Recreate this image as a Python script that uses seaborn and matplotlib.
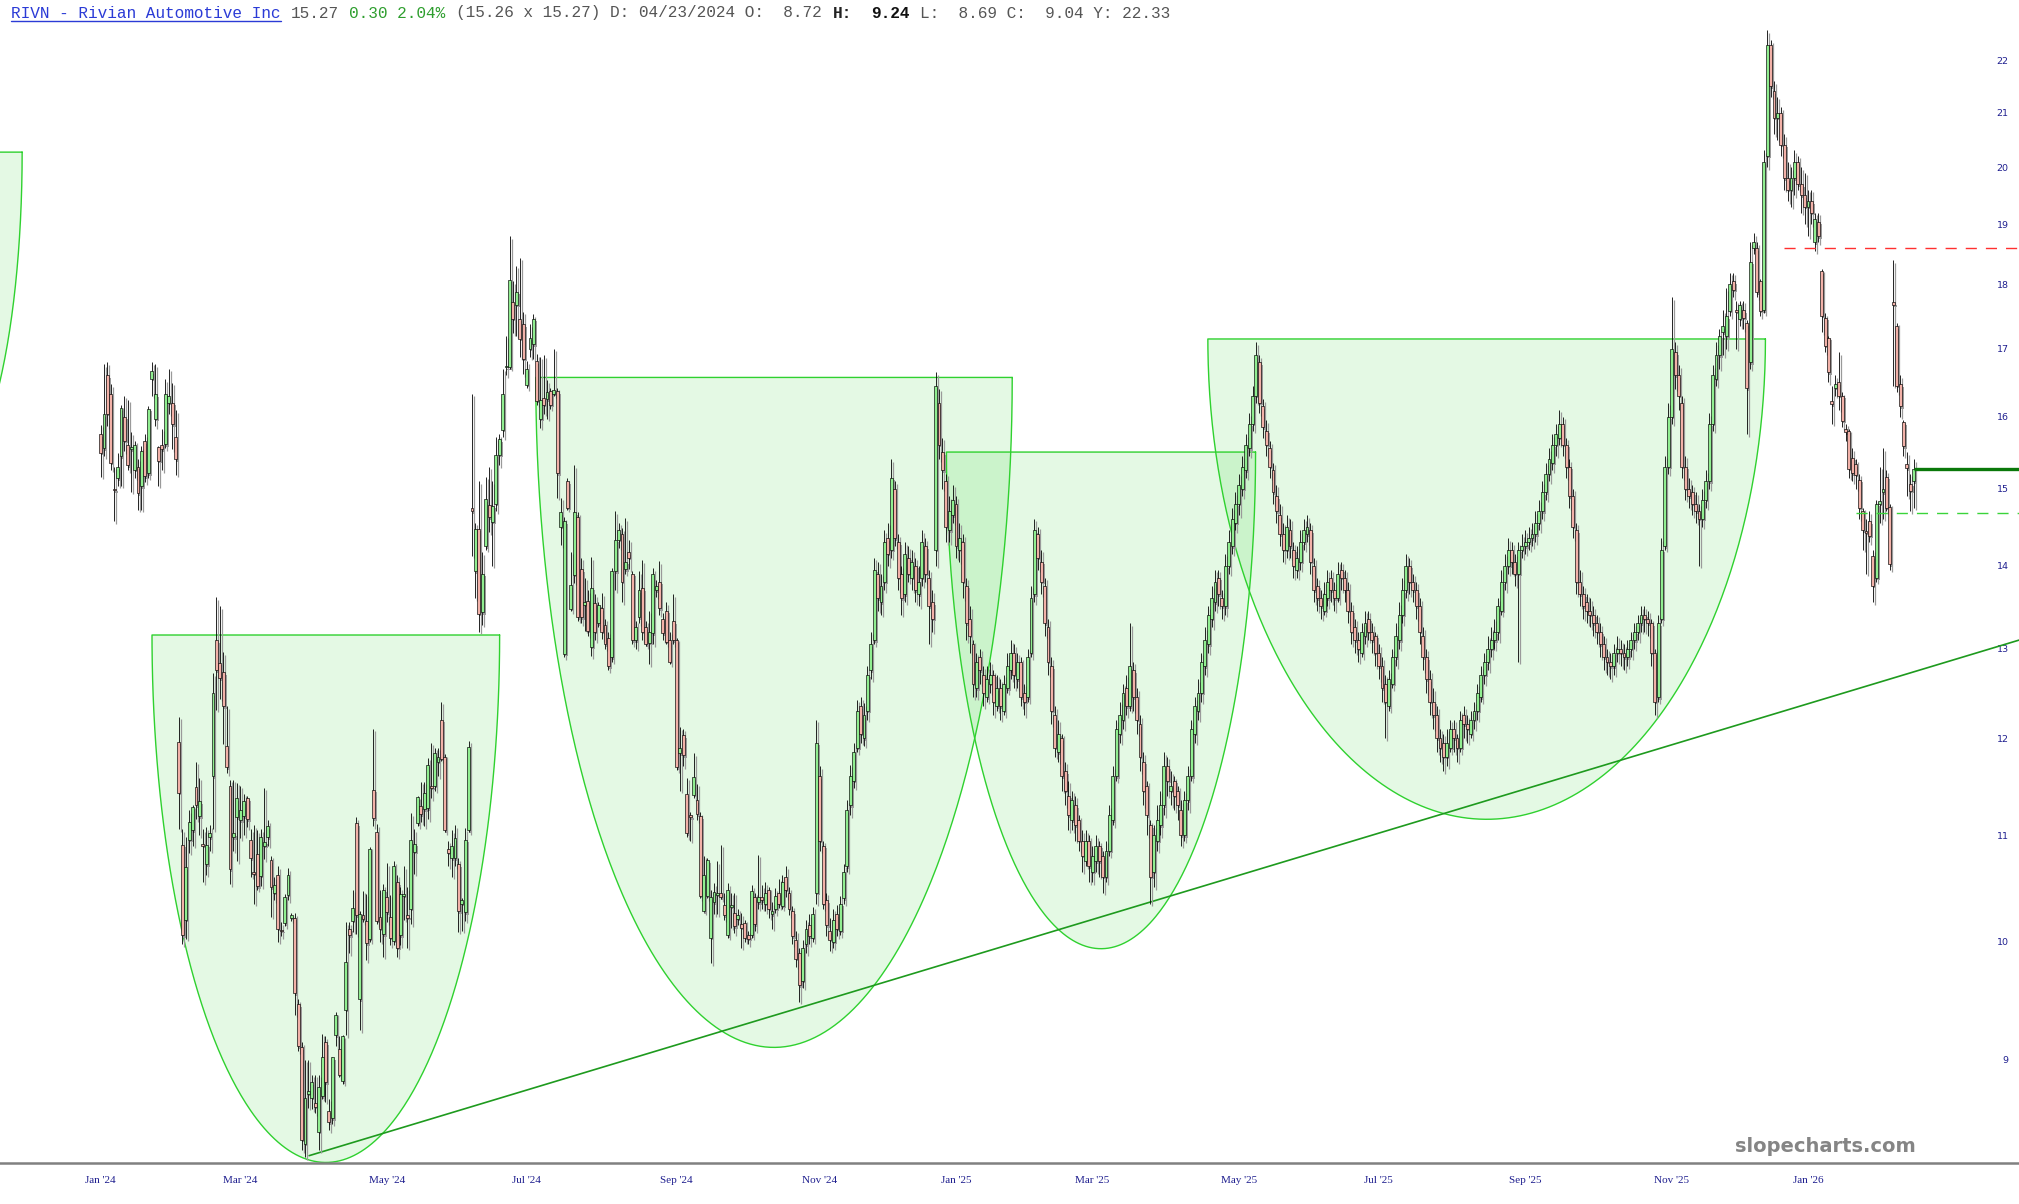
import numpy as np
import pandas as pd
import matplotlib
matplotlib.use("Agg")
import matplotlib.pyplot as plt
import matplotlib.transforms as mtransforms
from matplotlib.lines import Line2D
from matplotlib.ticker import NullLocator
import seaborn as sns
from pandas.tseries.holiday import USFederalHolidayCalendar
from pandas.tseries.offsets import CustomBusinessDay

# daily candles (open, high, low, close)
jan_24 = [
    (15.75, 15.88, 15.16, 15.49), (15.55, 16.77, 15.44, 16.03), (16.60, 16.80, 15.86, 16.04),
    (16.33, 16.47, 15.26, 15.35), (15.00, 15.30, 14.57, 14.98), (15.14, 15.49, 15.04, 15.30),
    (15.44, 16.16, 15.04, 16.12), (16.00, 16.30, 15.51, 15.66), (15.60, 16.24, 15.25, 15.32),
    (15.54, 15.78, 14.96, 15.57), (15.26, 15.66, 15.15, 15.60), (15.30, 15.41, 14.72, 14.94),
    (15.03, 15.58, 14.72, 15.52), (15.65, 15.75, 15.09, 15.17), (15.21, 16.15, 15.15, 16.11),
    (16.55, 16.80, 16.30, 16.66), (15.97, 16.77, 15.86, 16.32), (15.57, 15.58, 15.04, 15.38),
    (15.60, 15.83, 15.25, 15.54), (15.61, 16.54, 15.55, 16.33), (16.20, 16.70, 16.04, 16.30),
    (16.20, 16.49, 15.54, 15.89), (15.71, 16.09, 15.19, 15.40),
]
feb_mar_24 = [
    (11.96, 12.23, 11.06, 11.43), (10.91, 11.06, 9.98, 10.06), (10.20, 10.98, 10.03, 10.69),
    (10.96, 11.25, 10.83, 11.13), (11.05, 11.30, 10.90, 11.28), (11.49, 11.75, 11.16, 11.30),
    (11.19, 11.58, 11.00, 11.34), (10.92, 11.06, 10.55, 10.90), (10.72, 11.08, 10.62, 10.91),
    (10.98, 11.10, 10.85, 11.02), (11.60, 12.72, 11.06, 12.49), (13.10, 13.61, 12.31, 12.75),
    (12.84, 13.50, 12.43, 12.66), (12.73, 12.96, 11.94, 12.35), (11.92, 12.35, 11.63, 11.69),
    (11.50, 11.56, 10.53, 10.67), (10.98, 11.56, 10.85, 11.02), (11.18, 11.53, 10.75, 11.37),
    (11.15, 11.50, 10.97, 11.25), (11.19, 11.42, 11.00, 11.34), (11.37, 11.39, 11.08, 11.16),
    (10.96, 11.06, 10.60, 10.78), (10.65, 11.10, 10.35, 10.63), (10.82, 11.05, 10.48, 10.51),
]
apr_may_24 = [
    (10.61, 11.06, 10.51, 10.98), (10.90, 11.48, 10.77, 10.94), (10.98, 11.15, 10.90, 11.09),
    (10.76, 10.80, 10.23, 10.50), (10.45, 10.60, 10.38, 10.52), (10.62, 10.70, 10.00, 10.12),
    (10.11, 10.18, 10.05, 10.10), (10.17, 10.44, 10.14, 10.41), (10.43, 10.68, 10.38, 10.62),
    (10.22, 10.26, 10.19, 10.24), (10.22, 10.26, 9.37, 9.55), (9.46, 9.50, 9.07, 9.11),
    (9.10, 9.14, 8.30, 8.38), (8.35, 9.00, 8.25, 8.70), (8.73, 9.00, 8.62, 8.75),
    (8.70, 8.88, 8.61, 8.82), (8.66, 8.88, 8.58, 8.63), (8.44, 8.88, 8.30, 8.78),
    (8.71, 9.21, 8.69, 9.02), (9.14, 9.19, 8.67, 8.82), (8.60, 8.69, 8.45, 8.51),
    (8.54, 9.02, 8.50, 9.02), (9.20, 9.39, 9.11, 9.37), (9.09, 9.19, 8.86, 8.88),
    (8.83, 9.20, 8.81, 9.19), (9.41, 10.18, 9.20, 9.82), (10.12, 10.18, 9.90, 10.06),
    (10.19, 10.48, 10.09, 10.31), (11.12, 11.18, 10.07, 10.24), (9.50, 10.28, 9.24, 10.25),
    (10.24, 10.47, 10.18, 10.21), (10.19, 10.44, 9.84, 9.99), (10.03, 10.89, 10.00, 10.87),
    (11.46, 12.10, 11.09, 11.17), (11.03, 11.11, 10.16, 10.19), (10.23, 10.48, 10.00, 10.12),
    (10.07, 10.53, 9.87, 10.48), (10.41, 10.73, 10.18, 10.27), (10.23, 10.43, 9.97, 10.04),
    (10.01, 10.75, 9.97, 10.70), (10.55, 10.62, 9.87, 9.95), (10.06, 10.50, 9.97, 10.44),
    (10.42, 10.70, 10.20, 10.44), (10.24, 10.50, 9.95, 10.22), (10.30, 11.22, 10.16, 10.96),
    (10.84, 11.06, 10.63, 10.92), (11.12, 11.39, 11.09, 11.38), (11.29, 11.54, 11.13, 11.21),
    (11.26, 11.54, 11.09, 11.43), (11.27, 11.79, 11.16, 11.72), (11.50, 11.95, 11.37, 11.48),
    (11.50, 11.90, 11.45, 11.84),
]
jun_24 = [
    (11.75, 11.90, 11.60, 11.80), (12.20, 12.40, 11.76, 11.78), (11.80, 11.83, 11.03, 11.05),
    (10.87, 10.95, 10.70, 10.83), (10.78, 11.05, 10.60, 10.90), (10.78, 11.10, 10.70, 10.97),
    (10.72, 10.78, 10.09, 10.28), (10.35, 10.40, 10.10, 10.38), (10.27, 11.07, 10.19, 10.96),
    (11.05, 11.97, 11.03, 11.91),
]
jul_aug_24 = [
    (14.75, 16.33, 14.13, 14.70), (13.93, 14.55, 13.60, 14.47), (14.47, 15.10, 13.20, 13.41),
    (13.43, 14.17, 13.28, 13.90), (14.25, 15.16, 14.20, 14.86), (14.78, 15.30, 14.43, 14.62),
    (14.56, 15.10, 14.00, 14.77), (14.80, 15.71, 14.70, 15.46), (15.46, 15.75, 15.32, 15.68),
    (15.81, 16.70, 15.71, 16.33), (16.72, 17.20, 16.60, 16.74), (16.72, 18.80, 16.70, 18.08),
    (17.72, 18.06, 17.24, 17.46), (17.68, 18.31, 17.20, 17.89), (17.46, 18.44, 16.87, 17.15),
    (17.38, 17.57, 16.62, 16.85), (16.46, 16.81, 16.41, 16.70), (17.00, 17.38, 16.87, 17.17),
    (17.07, 17.53, 16.85, 17.46), (16.81, 16.92, 16.17, 16.23), (15.97, 16.88, 15.84, 16.24),
    (16.27, 16.90, 16.04, 16.17), (16.25, 16.53, 15.97, 16.35), (16.37, 16.42, 16.11, 16.17),
    (16.33, 17.00, 16.30, 16.39), (16.37, 16.42, 14.88, 15.21), (14.50, 14.88, 14.26, 14.69),
    (12.94, 14.62, 12.90, 14.57), (15.10, 15.14, 14.72, 14.75), (13.47, 14.18, 13.44, 13.76),
    (13.89, 15.32, 13.79, 14.69), (14.62, 14.69, 13.33, 13.37), (13.96, 14.10, 13.30, 13.37),
    (13.52, 13.85, 13.21, 13.55), (13.57, 13.70, 13.15, 13.21), (13.02, 14.11, 12.91, 13.73),
]
sep_oct_24 = [
    (13.54, 13.65, 13.10, 13.20), (13.30, 13.55, 13.25, 13.52), (13.48, 13.66, 13.11, 13.20),
    (13.28, 13.35, 13.00, 13.05), (13.13, 13.20, 12.75, 12.80), (12.90, 13.97, 12.85, 13.93),
    (13.93, 14.70, 13.70, 14.33), (14.33, 14.55, 14.23, 14.45), (14.40, 14.48, 13.55, 13.80),
    (13.96, 14.61, 13.90, 14.05), (14.17, 14.33, 13.96, 14.10), (13.90, 13.93, 13.05, 13.10),
    (13.10, 13.33, 13.00, 13.25), (13.37, 13.93, 13.30, 13.70), (13.72, 14.07, 13.10, 13.20),
    (13.25, 13.33, 13.03, 13.05), (13.07, 13.45, 12.82, 13.20), (13.18, 13.97, 13.05, 13.90),
    (13.70, 13.82, 13.62, 13.75), (13.80, 14.06, 13.40, 13.48), (13.35, 13.42, 13.10, 13.18),
    (13.45, 13.55, 13.05, 13.08), (13.10, 13.20, 12.82, 12.85), (13.32, 13.65, 13.05, 13.10),
    (13.10, 13.12, 11.66, 11.69), (11.84, 12.12, 11.45, 11.90), (12.03, 12.10, 11.70, 11.82),
    (11.42, 11.58, 10.98, 11.02), (11.20, 11.23, 10.95, 11.18), (11.41, 11.84, 11.37, 11.59),
    (11.35, 11.52, 11.15, 11.21), (11.19, 11.23, 10.40, 10.42), (10.28, 10.80, 10.27, 10.62),
    (10.42, 10.78, 10.40, 10.76), (10.04, 10.48, 9.81, 10.41), (10.36, 10.54, 10.25, 10.46),
    (10.43, 10.75, 10.25, 10.45), (10.45, 10.91, 10.39, 10.41), (10.34, 10.45, 10.20, 10.24),
    (10.06, 10.54, 10.04, 10.48), (10.32, 10.45, 10.13, 10.33), (10.26, 10.45, 10.08, 10.14),
    (10.21, 10.30, 10.15, 10.24), (10.16, 10.26, 9.95, 10.13), (10.17, 10.20, 10.00, 10.04),
    (10.06, 10.10, 9.98, 10.03), (10.06, 10.52, 10.04, 10.47), (10.41, 10.45, 10.10, 10.16),
    (10.36, 10.81, 10.30, 10.41),
]
nov_24_jan_25 = [
    (10.41, 10.52, 10.30, 10.38), (10.35, 10.55, 10.28, 10.45), (10.48, 10.50, 10.22, 10.30),
    (10.25, 10.36, 10.12, 10.28), (10.30, 10.49, 10.26, 10.42), (10.45, 10.58, 10.31, 10.35),
    (10.33, 10.62, 10.30, 10.55), (10.60, 10.70, 10.41, 10.48), (10.45, 10.50, 10.24, 10.30),
    (10.28, 10.33, 9.98, 10.05), (10.02, 10.10, 9.78, 9.85), (9.90, 9.95, 9.48, 9.62),
    (9.66, 10.02, 9.60, 9.95), (9.98, 10.20, 9.90, 10.12), (10.15, 10.25, 9.98, 10.05),
    (10.04, 10.32, 10.00, 10.25), (10.45, 12.20, 10.35, 11.95), (11.60, 11.70, 10.85, 10.95),
    (10.90, 10.95, 10.30, 10.35), (10.38, 10.45, 10.05, 10.15), (10.10, 10.22, 9.92, 10.02),
    (10.00, 10.30, 9.95, 10.20), (10.25, 10.34, 10.05, 10.12), (10.10, 10.42, 10.06, 10.35),
    (10.40, 10.72, 10.35, 10.65), (10.70, 11.35, 10.65, 11.25), (11.30, 11.72, 11.20, 11.60),
    (11.55, 11.95, 11.48, 11.85), (11.90, 12.42, 11.85, 12.30), (12.35, 12.45, 11.95, 12.05),
    (12.00, 12.38, 11.92, 12.25), (12.30, 12.80, 12.20, 12.70), (12.75, 13.20, 12.65, 13.05),
    (13.10, 14.10, 13.05, 13.95), (13.90, 14.05, 13.45, 13.60), (13.55, 13.90, 13.40, 13.75),
    (13.80, 14.45, 13.70, 14.30), (14.35, 14.55, 14.00, 14.15), (14.20, 15.40, 14.10, 15.15),
    (15.00, 15.10, 14.25, 14.35), (14.30, 14.40, 13.70, 13.85), (13.90, 14.00, 13.40, 13.60),
    (13.65, 14.30, 13.55, 14.15), (14.10, 14.25, 13.80, 13.90), (13.85, 14.20, 13.70, 14.05),
    (14.00, 14.10, 13.55, 13.70), (13.65, 14.00, 13.50, 13.80), (13.85, 14.45, 13.75, 14.30),
    (14.25, 14.35, 13.80, 13.90), (13.85, 13.95, 13.05, 13.50), (13.55, 13.70, 13.20, 13.35),
    (14.20, 16.65, 14.00, 16.45), (16.20, 16.40, 15.40, 15.60), (15.50, 15.70, 15.00, 15.25),
    (15.10, 15.20, 14.30, 14.50), (14.45, 14.90, 14.30, 14.70), (14.65, 15.05, 14.55, 14.85),
    (14.80, 14.90, 14.10, 14.25), (14.20, 14.55, 14.05, 14.35), (14.30, 14.40, 13.60, 13.80),
    (13.75, 13.85, 13.10, 13.30), (13.35, 13.50, 12.95, 13.15), (13.05, 13.10, 12.45, 12.60),
    (12.55, 12.95, 12.45, 12.85), (12.90, 13.00, 12.60, 12.75), (12.70, 12.80, 12.35, 12.50),
    (12.45, 12.80, 12.40, 12.65), (12.60, 12.85, 12.50, 12.70), (12.70, 12.75, 12.25, 12.40),
    (12.35, 12.70, 12.30, 12.55), (12.55, 12.65, 12.20, 12.35), (12.30, 12.70, 12.25, 12.60),
    (12.55, 12.95, 12.50, 12.80), (12.75, 13.10, 12.65, 12.95), (12.95, 13.05, 12.55, 12.70),
    (12.65, 12.95, 12.55, 12.85), (12.85, 12.90, 12.35, 12.45), (12.50, 12.60, 12.25, 12.40),
]
feb_may_25 = [
    (12.45, 13.00, 12.40, 12.90), (12.95, 13.75, 12.90, 13.60), (13.65, 14.60, 13.55, 14.45),
    (14.40, 14.50, 13.95, 14.10), (14.05, 14.20, 13.65, 13.80), (13.75, 13.85, 13.15, 13.30),
    (13.25, 13.35, 12.70, 12.85), (12.80, 12.90, 12.15, 12.30), (12.25, 12.35, 11.80, 11.90),
    (11.85, 12.20, 11.75, 12.05), (12.00, 12.05, 11.45, 11.60), (11.65, 11.75, 11.30, 11.45),
    (11.40, 11.55, 11.05, 11.20), (11.15, 11.45, 11.05, 11.35), (11.30, 11.40, 10.95, 11.10),
    (11.15, 11.20, 10.85, 10.95), (10.95, 11.05, 10.65, 10.80), (10.75, 11.05, 10.70, 10.95),
    (10.95, 11.00, 10.55, 10.70), (10.65, 10.90, 10.55, 10.80), (10.75, 11.00, 10.65, 10.90),
    (10.90, 10.95, 10.60, 10.75), (10.80, 10.85, 10.45, 10.60), (10.60, 10.95, 10.55, 10.85),
    (10.85, 11.30, 10.80, 11.20), (11.15, 11.70, 11.10, 11.60), (11.60, 12.20, 11.55, 12.10),
    (12.05, 12.40, 11.95, 12.25), (12.20, 12.60, 12.10, 12.50), (12.55, 12.70, 12.25, 12.35),
    (12.35, 13.30, 12.30, 12.80), (12.75, 12.85, 12.30, 12.45), (12.45, 12.55, 12.05, 12.20),
    (12.15, 12.25, 11.65, 11.80), (11.75, 11.85, 11.30, 11.45), (11.50, 11.55, 11.00, 11.20),
    (11.10, 11.15, 10.35, 10.60), (10.65, 11.10, 10.50, 11.00), (10.95, 11.30, 10.85, 11.15),
    (11.10, 11.45, 11.00, 11.30), (11.30, 11.85, 11.20, 11.70), (11.70, 11.80, 11.40, 11.55),
    (11.45, 11.65, 11.30, 11.50), (11.55, 11.60, 11.25, 11.40), (11.45, 11.50, 11.15, 11.30),
    (11.25, 11.35, 10.90, 11.00), (11.00, 11.45, 10.95, 11.35), (11.35, 11.70, 11.25, 11.60),
    (11.60, 12.20, 11.55, 12.10), (12.05, 12.45, 11.95, 12.35), (12.30, 12.65, 12.20, 12.50),
    (12.50, 12.95, 12.40, 12.85), (12.80, 13.25, 12.70, 13.10), (13.05, 13.50, 12.95, 13.40),
    (13.35, 13.75, 13.25, 13.60), (13.55, 13.95, 13.45, 13.80), (13.85, 13.95, 13.50, 13.65),
    (13.60, 13.70, 13.35, 13.50), (13.50, 14.15, 13.40, 14.00), (14.00, 14.45, 13.90, 14.30),
    (14.25, 14.75, 14.15, 14.60), (14.55, 14.95, 14.45, 14.80), (14.80, 15.20, 14.65, 15.05),
    (15.00, 15.45, 14.90, 15.30), (15.25, 15.75, 15.15, 15.60), (15.55, 16.05, 15.45, 15.90),
    (15.90, 16.45, 15.80, 16.30), (16.30, 17.10, 16.20, 16.90),
]
jun_sep_25 = [
    (16.80, 16.90, 16.05, 16.20), (16.15, 16.25, 15.70, 15.85), (15.80, 15.95, 15.45, 15.60),
    (15.55, 15.65, 15.15, 15.30), (15.25, 15.35, 14.80, 14.95), (14.90, 15.05, 14.55, 14.70),
    (14.65, 14.80, 14.25, 14.40), (14.40, 14.55, 14.05, 14.20), (14.20, 14.65, 14.10, 14.50),
    (14.45, 14.60, 14.10, 14.25), (14.20, 14.30, 13.85, 14.00), (13.95, 14.25, 13.85, 14.10),
    (14.05, 14.45, 13.95, 14.30), (14.30, 14.60, 14.20, 14.45), (14.40, 14.65, 14.30, 14.50),
    (14.45, 14.55, 13.90, 14.05), (14.00, 14.10, 13.55, 13.70), (13.75, 13.85, 13.45, 13.60),
    (13.60, 13.70, 13.35, 13.50), (13.45, 13.80, 13.40, 13.65), (13.60, 13.95, 13.50, 13.80),
    (13.85, 13.95, 13.55, 13.70), (13.70, 13.80, 13.45, 13.60), (13.60, 14.05, 13.55, 13.90),
    (13.95, 14.05, 13.70, 13.85), (13.85, 13.95, 13.55, 13.70), (13.70, 13.80, 13.30, 13.45),
    (13.45, 13.55, 13.05, 13.20), (13.25, 13.35, 12.95, 13.10), (13.10, 13.20, 12.85, 13.00),
    (12.95, 13.30, 12.90, 13.20), (13.15, 13.45, 13.05, 13.30), (13.35, 13.45, 13.10, 13.20),
    (13.20, 13.30, 12.95, 13.10), (13.15, 13.20, 12.80, 12.95), (12.95, 13.05, 12.65, 12.80),
    (12.80, 12.90, 12.40, 12.55), (12.60, 12.70, 12.00, 12.40), (12.35, 12.75, 12.30, 12.65),
    (12.60, 13.00, 12.55, 12.90), (12.90, 13.30, 12.80, 13.15), (13.10, 13.55, 13.00, 13.40),
    (13.40, 13.85, 13.30, 13.70), (13.70, 14.15, 13.60, 14.00), (14.00, 14.10, 13.65, 13.80),
    (13.80, 13.90, 13.55, 13.70), (13.70, 13.80, 13.35, 13.50), (13.50, 13.60, 13.05, 13.20),
    (13.15, 13.25, 12.75, 12.90), (12.90, 13.00, 12.50, 12.65), (12.65, 12.75, 12.25, 12.40),
    (12.40, 12.55, 12.10, 12.25), (12.25, 12.35, 11.85, 12.00), (12.00, 12.10, 11.75, 11.90),
    (11.95, 12.05, 11.65, 11.80), (11.80, 12.10, 11.70, 11.95), (11.90, 12.20, 11.85, 12.10),
    (12.10, 12.20, 11.85, 12.00), (12.00, 12.05, 11.75, 11.90), (11.90, 12.30, 11.85, 12.20),
    (12.25, 12.35, 12.00, 12.15), (12.15, 12.25, 11.95, 12.10), (12.05, 12.30, 12.00, 12.20),
    (12.20, 12.40, 12.10, 12.30), (12.30, 12.60, 12.20, 12.50), (12.45, 12.80, 12.40, 12.70),
    (12.70, 12.95, 12.60, 12.85), (12.85, 13.15, 12.75, 13.00), (13.00, 13.25, 12.90, 13.10),
    (13.10, 13.35, 13.00, 13.20), (13.20, 13.60, 13.10, 13.50), (13.45, 13.95, 13.40, 13.80),
    (13.80, 14.15, 13.70, 14.00), (14.00, 14.35, 13.90, 14.20), (14.20, 14.30, 13.90, 14.05),
    (14.05, 14.15, 13.75, 13.90), (13.90, 14.30, 12.85, 14.20), (14.20, 14.40, 14.10, 14.25),
    (14.25, 14.45, 14.15, 14.30), (14.30, 14.50, 14.20, 14.35), (14.35, 14.55, 14.25, 14.40),
]
sep_nov_25 = [
    (14.40, 14.70, 14.30, 14.55), (14.55, 14.85, 14.45, 14.70), (14.70, 15.10, 14.60, 14.95),
    (14.95, 15.35, 14.85, 15.20), (15.20, 15.55, 15.10, 15.40), (15.35, 15.75, 15.25, 15.60),
    (15.60, 15.90, 15.45, 15.75), (15.70, 16.10, 15.60, 15.90), (15.90, 16.00, 15.45, 15.60),
    (15.60, 15.70, 15.15, 15.30), (15.30, 15.40, 14.75, 14.90), (14.90, 15.00, 14.35, 14.50),
    (14.45, 14.55, 13.65, 13.80), (13.80, 13.95, 13.50, 13.65), (13.65, 13.75, 13.35, 13.50),
    (13.55, 13.65, 13.30, 13.45), (13.45, 13.60, 13.25, 13.40), (13.40, 13.50, 13.15, 13.30),
    (13.30, 13.40, 13.05, 13.20), (13.20, 13.30, 12.90, 13.05), (13.05, 13.15, 12.75, 12.90),
    (12.90, 13.00, 12.70, 12.85), (12.85, 12.95, 12.65, 12.80), (12.80, 13.05, 12.70, 12.95),
    (12.95, 13.15, 12.85, 13.00), (13.00, 13.10, 12.80, 12.95), (12.95, 13.05, 12.75, 12.90),
    (12.90, 13.10, 12.80, 13.00), (13.00, 13.20, 12.90, 13.10), (13.10, 13.30, 13.00, 13.20),
    (13.20, 13.40, 13.10, 13.30), (13.30, 13.50, 13.20, 13.40), (13.40, 13.50, 13.20, 13.35),
    (13.35, 13.45, 13.15, 13.30), (13.30, 13.35, 12.80, 12.95), (12.95, 13.00, 12.25, 12.40),
    (12.45, 13.40, 12.40, 13.30), (13.35, 14.35, 13.30, 14.20), (14.25, 15.45, 14.20, 15.30),
    (15.30, 16.20, 15.20, 16.00), (16.00, 17.80, 15.90, 17.00), (16.95, 17.10, 16.40, 16.60),
    (16.60, 16.75, 16.10, 16.30), (16.20, 16.30, 15.15, 15.30), (15.30, 15.45, 14.85, 15.00),
    (15.00, 15.15, 14.75, 14.90), (14.95, 15.05, 14.65, 14.80), (14.80, 14.95, 14.55, 14.70),
    (14.70, 14.80, 14.00, 14.60), (14.60, 15.00, 14.50, 14.85), (14.85, 15.25, 14.75, 15.10),
    (15.10, 16.05, 15.00, 15.90), (15.90, 16.75, 15.80, 16.60), (16.55, 17.10, 16.45, 16.90),
]
dec_25_feb_26 = [
    (16.90, 17.30, 16.70, 17.20), (17.25, 17.60, 16.90, 17.35), (17.20, 17.95, 17.00, 17.50),
    (17.59, 18.20, 17.50, 18.02), (18.06, 18.20, 17.80, 17.92), (17.60, 17.75, 17.00, 17.57),
    (17.46, 17.75, 17.35, 17.68), (17.60, 17.75, 17.30, 17.48), (17.39, 17.45, 15.75, 16.41),
    (16.80, 18.70, 16.70, 18.38), (18.60, 18.85, 18.50, 18.70), (18.60, 18.70, 17.80, 17.88),
    (18.06, 18.10, 17.50, 17.59), (17.60, 20.30, 17.55, 20.10), (20.20, 22.60, 20.00, 22.30),
    (22.30, 22.40, 21.30, 21.50), (21.40, 21.60, 20.60, 20.90), (20.90, 21.30, 20.50, 21.00),
    (21.00, 21.10, 20.20, 20.40), (20.40, 20.60, 19.60, 19.80), (19.80, 20.10, 19.40, 19.60),
    (19.60, 20.00, 19.30, 19.80), (19.80, 20.30, 19.50, 20.10), (20.10, 20.20, 19.60, 19.70),
    (19.70, 20.00, 19.20, 19.50), (19.50, 19.90, 19.00, 19.30), (19.30, 19.60, 18.80, 19.40),
    (19.40, 19.60, 19.00, 19.20), (18.70, 19.20, 18.55, 19.10), (19.05, 19.20, 18.70, 18.80),
    (18.22, 18.25, 17.25, 17.51), (17.48, 17.55, 16.95, 17.05), (17.17, 17.20, 16.50, 16.65),
    (16.22, 16.45, 15.90, 16.18), (16.42, 16.60, 16.30, 16.48), (16.50, 16.95, 16.10, 16.30),
    (16.30, 16.35, 15.85, 15.94), (15.82, 15.90, 15.65, 15.78), (15.80, 15.82, 15.15, 15.27),
    (15.42, 15.55, 15.10, 15.21), (15.33, 15.40, 15.00, 15.19), (15.12, 15.20, 14.60, 14.75),
    (14.70, 14.75, 14.20, 14.45), (14.44, 14.60, 13.90, 14.42), (14.57, 14.70, 14.30, 14.38),
    (14.12, 14.20, 13.55, 13.75), (13.85, 14.85, 13.80, 14.80), (14.80, 15.30, 14.55, 14.83),
    (14.95, 15.55, 14.60, 14.99), (15.16, 15.25, 14.70, 14.75), (14.76, 14.80, 13.95, 14.02),
    (17.72, 18.40, 16.45, 17.68), (17.35, 17.40, 16.35, 16.45), (16.47, 16.60, 16.00, 16.15),
    (15.92, 15.95, 15.45, 15.58), (15.33, 15.50, 14.90, 15.28), (15.07, 15.20, 14.70, 14.97),
    (15.10, 15.40, 14.75, 15.27),
]

# cup drawings: start / end bar, rim price, bottom price
cup_start = [-68.4, 15.1, 127.7, 248.2, 324.9]
cup_end = [-23.0, 117.1, 267.5, 338.9, 488.5]
cup_rim = [20.27, 13.16, 16.57, 15.50, 17.15]
cup_bottom = [15.13, 8.21, 9.10, 9.94, 11.16]

# rising trendline (bar, price)
trend_x = [61.2, 562.9]
trend_y = [8.26, 13.10]

# horizontal levels
resistance, resistance_from = 18.60, 494
support, support_from = 14.68, 515
last_price = 15.27

y_ticks = list(range(9, 23))

# ---- build frame ----
rows = (jan_24 + feb_mar_24 + apr_may_24 + jun_24 + jul_aug_24 + sep_oct_24
        + nov_24_jan_25 + feb_may_25 + jun_sep_25 + sep_nov_25 + dec_25_feb_26)
df = pd.DataFrame(rows, columns=["open", "high", "low", "close"])
bday = CustomBusinessDay(calendar=USFederalHolidayCalendar())
df["date"] = pd.date_range("2024-01-02", periods=len(df), freq=bday)
df["pos"] = np.arange(len(df))

sns.set_theme(style="white")
W, H = 2019, 1204
fig = plt.figure(figsize=(W / 100, H / 100), dpi=100)
ax = fig.add_axes([0, 41 / H, 1, 1 - 41 / H])
ax.set_yscale("log")
ax.set_xlim(-29.5, 562.9)
ax.set_ylim(8.206, 23.225)

# cups
for x0, x1, rim, bot in zip(cup_start, cup_end, cup_rim, cup_bottom):
    t = np.linspace(0, np.pi, 300)
    cx, a = (x0 + x1) / 2, (x1 - x0) / 2
    xs = cx + a * np.cos(t)
    ys = np.exp(np.log(rim) - (np.log(rim) - np.log(bot)) * np.sin(t))
    ax.fill(xs, ys, color="#00c800", alpha=0.105, lw=0, zorder=1)
    ax.plot(np.r_[xs, xs[0]], np.r_[ys, ys[0]], color="#2fd12f", lw=1.0, zorder=2)

# trendline
sns.lineplot(x=trend_x, y=trend_y, ax=ax, color="#1e9a1e", lw=1.2, zorder=2)

# candles with a soft drop shadow
x = df["pos"].values
up = (df["close"] >= df["open"]).values
body_lo = np.minimum(df["open"], df["close"]).values
body_h = np.maximum(np.abs(df["close"] - df["open"]).values, 0.012)
colors = np.where(up, "#90ee90", "#f2b1a8")

shadow = ax.transData + mtransforms.ScaledTranslation(2 / 100, -2.5 / 100, fig.dpi_scale_trans)
ax.vlines(x, df["low"], df["high"], color="#9a9a9a", lw=0.9, transform=shadow, zorder=3)
sb = ax.bar(x, body_h, bottom=body_lo, width=0.85, color="#9a9a9a", lw=0, zorder=3)
for p in sb:
    p.set_transform(shadow)
ax.vlines(x, df["low"], df["high"], color="black", lw=0.6, zorder=4)
ax.bar(x, body_h, bottom=body_lo, width=0.85, color=colors, edgecolor="black", lw=0.45, zorder=5)

# levels
x_end = ax.get_xlim()[1]
ax.hlines(resistance, resistance_from, x_end, colors="#ff3030", lw=1.0,
          linestyles=(0, (8, 6.5)), zorder=6)
ax.hlines(support, support_from, x_end, colors="#3ad43a", lw=1.0,
          linestyles=(0, (8, 6.5)), zorder=6)
ax.hlines(last_price, x[-1], x_end, colors="#0a780a", lw=2.4, zorder=6)

# axes styling
for s in ["top", "left", "right"]:
    ax.spines[s].set_visible(False)
ax.spines["bottom"].set_color("#808080")
ax.spines["bottom"].set_linewidth(1.8)
ax.grid(False)

month_start = df["date"].dt.to_period("M") != df["date"].shift().dt.to_period("M")
odd = df["date"].dt.month.isin([1, 3, 5, 7, 9, 11])
ticks = df[month_start & odd]
ax.set_xticks(ticks["pos"])
ax.set_xticklabels(ticks["date"].dt.strftime("%b '%y"), fontfamily="Liberation Serif",
                   fontsize=8, color="#1f1f8f")
ax.tick_params(axis="x", length=0, pad=9.5)

ax.yaxis.set_minor_locator(NullLocator())
ax.set_yticks(y_ticks)
ax.set_yticklabels([str(v) for v in y_ticks], fontfamily="DejaVu Sans", fontsize=6.8,
                   color="#1f1f8f")
ax.yaxis.set_ticks_position("right")
ax.tick_params(axis="y", which="both", length=0, pad=-7.5, labelright=True, labelleft=False)
for lbl in ax.get_yticklabels():
    lbl.set_horizontalalignment("right")

# header line (monospaced, placed by character column)
cw, x0, yh = 9.67, 10.7, 13
header = [
    (0, "RIVN - Rivian Automotive Inc", "#2b3bd6", "normal"),
    (29, "15.27", "#555555", "normal"),
    (35, "0.30 2.04%", "#2e9e2e", "normal"),
    (46, "(15.26 x 15.27) D: 04/23/2024 O:  8.72", "#555555", "normal"),
    (85, "H:", "#222222", "bold"),
    (89, "9.24", "#111111", "bold"),
    (94, "L:  8.69 C:  9.04 Y: 22.33", "#555555", "normal"),
]
for col, txt, colr, wt in header:
    fig.text((x0 + col * cw) / W, 1 - yh / H, txt, family="Liberation Mono", fontsize=11.6,
             color=colr, weight=wt, ha="left", va="center")
fig.add_artist(Line2D([x0 / W, (x0 + 28 * cw) / W], [1 - 21 / H, 1 - 21 / H],
                      color="#2b3bd6", lw=1.0))

fig.text(1916 / W, 1 - 1147 / H, "slopecharts.com", family="DejaVu Sans", fontsize=14,
         weight="bold", color="#858585", ha="right", va="center")

fig.savefig("out.png", dpi=100)
